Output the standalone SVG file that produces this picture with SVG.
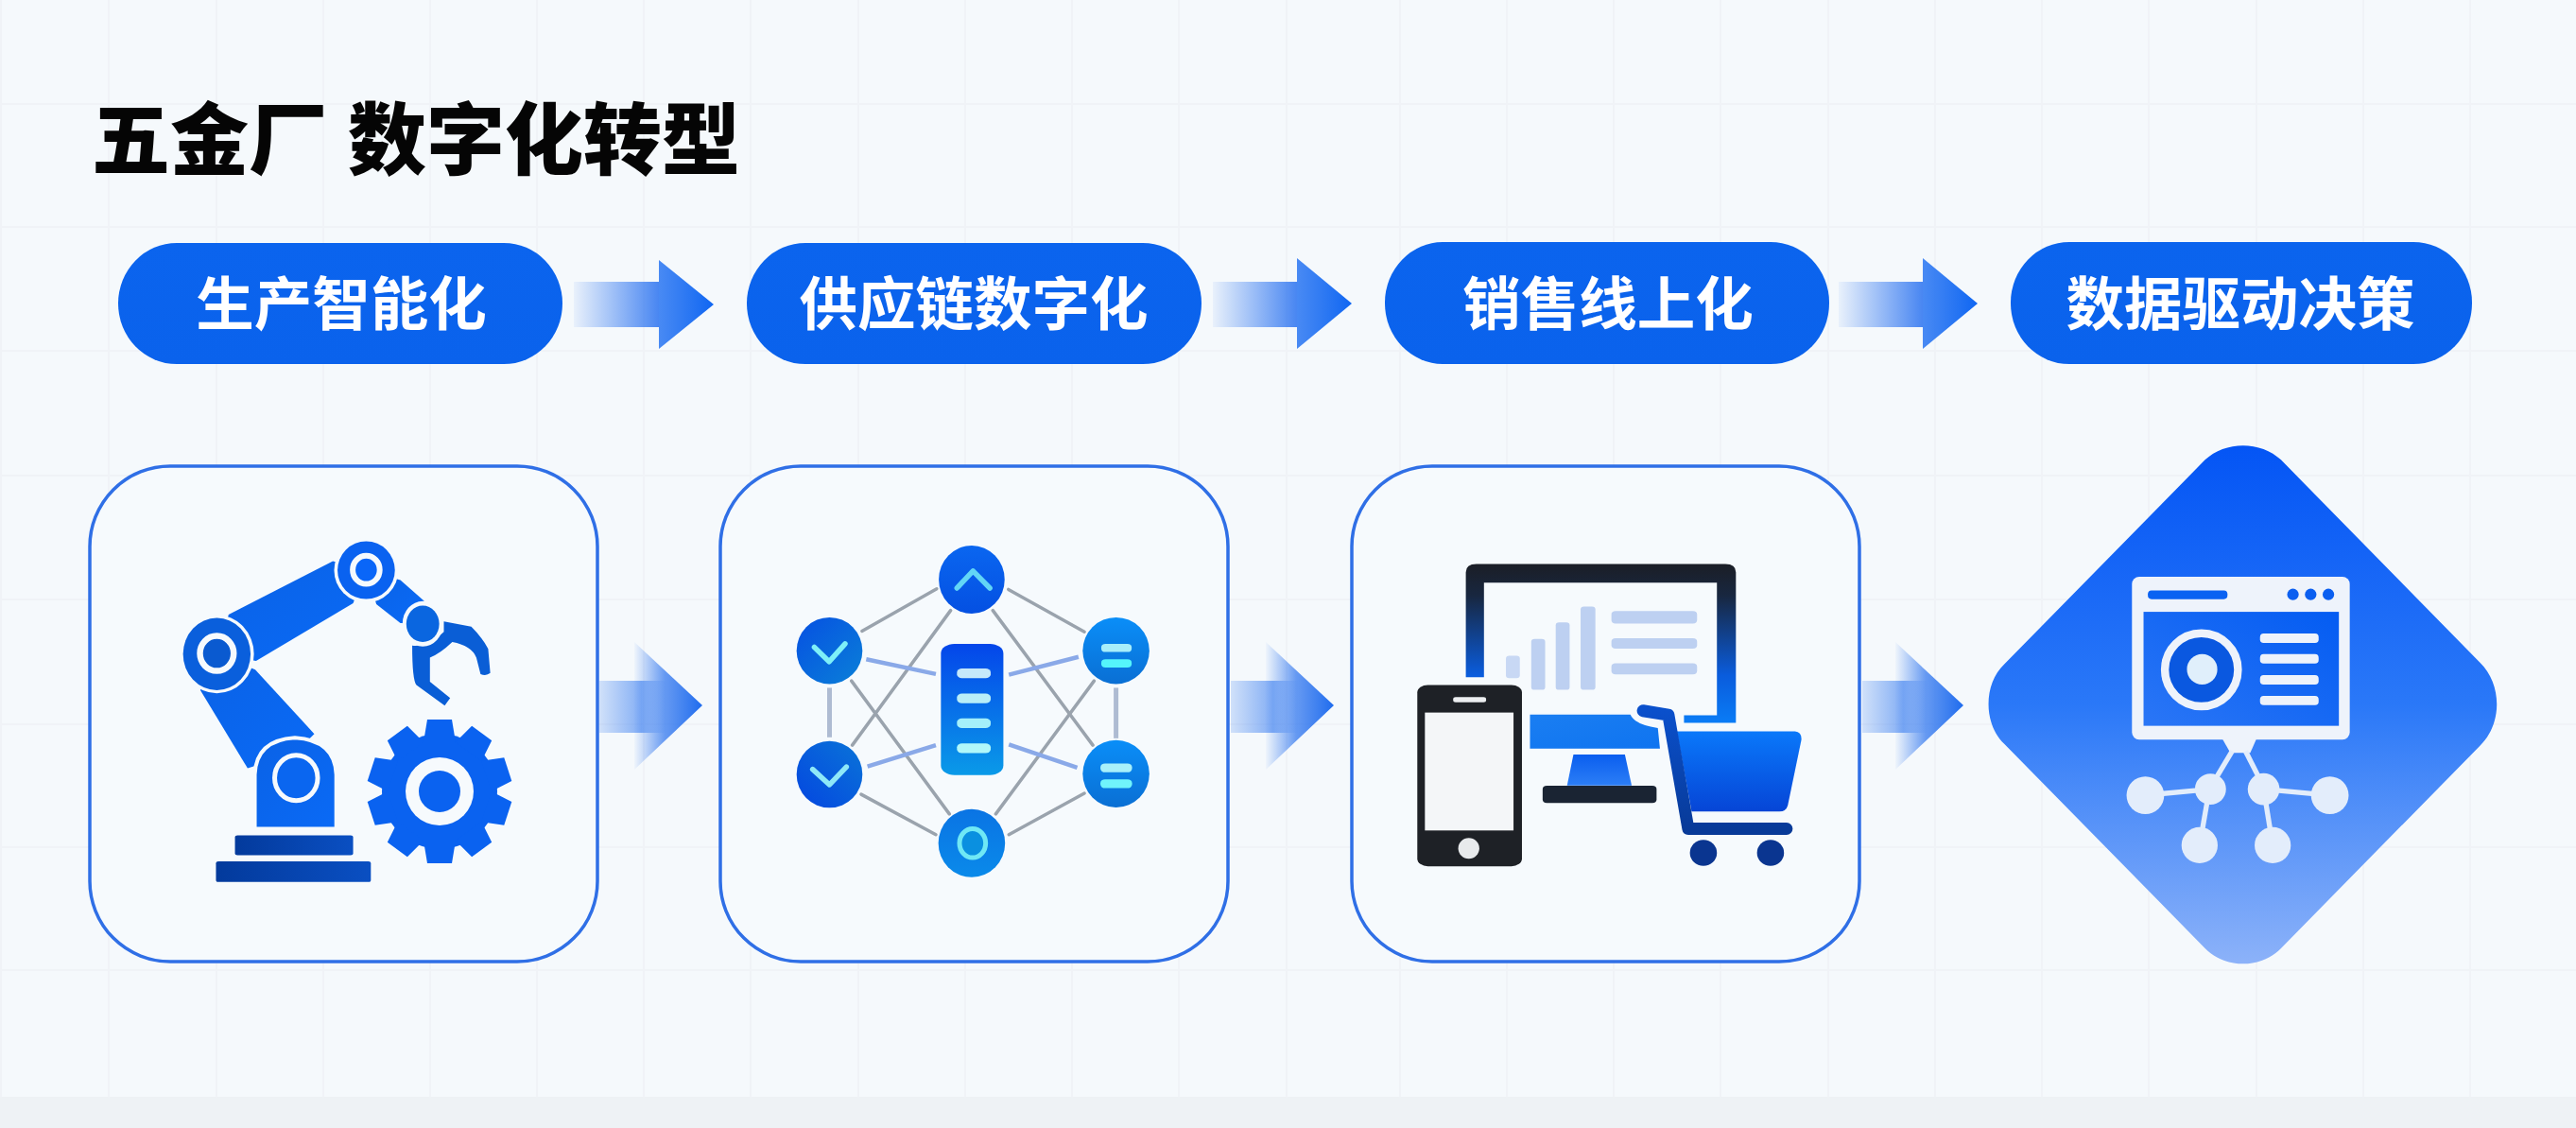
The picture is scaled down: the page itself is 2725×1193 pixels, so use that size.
<svg xmlns="http://www.w3.org/2000/svg" width="2725" height="1193" viewBox="0 0 2725 1193">
<style>
.title{font-family:"Noto Sans CJK SC","Noto Sans",sans-serif;font-weight:900;font-size:83px;fill:#050505}
.pill{fill:url(#pillG)}
.ptext{font-family:"Noto Sans CJK SC","Noto Sans",sans-serif;font-weight:700;font-size:61.5px;fill:#fff;text-anchor:middle}
.card{fill:#f6fafd;stroke:#2f6fe6;stroke-width:3.5}
.grid line{stroke:#f0f3f7;stroke-width:2}
.ns{vector-effect:non-scaling-stroke;fill:none}
.g1{stroke:#9aa3ad;stroke-width:3.5;stroke-linecap:round}
.g2{stroke:#aebbd2;stroke-width:5}
.b1{stroke:#8aa9e8;stroke-width:4.5}
.rb{fill:url(#robotG)}
.bgf{fill:#f6fafd}
.glyph{vector-effect:non-scaling-stroke;fill:none;stroke-width:5.5;stroke-linecap:round;stroke-linejoin:round}
.chart{fill:#bdd0f1}
.wh{fill:#eef3fb}
.nd{fill:#e3edfb}
.ln{stroke:#e3edfb;stroke-width:14;fill:none}
</style>
<defs>
<linearGradient id="pillG" x1="0" y1="0" x2="0" y2="1"><stop offset="0" stop-color="#0b64ee"/><stop offset="1" stop-color="#0a62ec"/></linearGradient>
<linearGradient id="shaftT" x1="0" y1="0" x2="1" y2="0"><stop offset="0" stop-color="#2a72f0" stop-opacity=".06"/><stop offset="1" stop-color="#2a72f0" stop-opacity=".85"/></linearGradient>
<linearGradient id="headT" x1="0" y1="0" x2="1" y2="0"><stop offset="0" stop-color="#2a76f2" stop-opacity=".85"/><stop offset="1" stop-color="#0f66f2"/></linearGradient>
<linearGradient id="shaftB" x1="0" y1="0" x2="1" y2="0"><stop offset="0" stop-color="#3e80f0" stop-opacity=".2"/><stop offset=".62" stop-color="#3e80f0" stop-opacity=".62"/><stop offset="1" stop-color="#3e80f0" stop-opacity="0"/></linearGradient>
<linearGradient id="headB" x1="0" y1="0" x2="1" y2="0"><stop offset="0" stop-color="#2d74ee" stop-opacity=".03"/><stop offset=".45" stop-color="#2d74ee" stop-opacity=".72"/><stop offset="1" stop-color="#1f6cee"/></linearGradient>
<linearGradient id="robotG" x1="0" y1="0" x2="1" y2="1"><stop offset="0" stop-color="#0a62e6"/><stop offset="1" stop-color="#0a6af6"/></linearGradient>
<linearGradient id="plinth" x1="0" y1="0" x2="1" y2="0"><stop offset="0" stop-color="#033a9c"/><stop offset="1" stop-color="#0a4fc2"/></linearGradient>
<linearGradient id="nTop" x1="0" y1="0" x2="0" y2="1"><stop offset="0" stop-color="#0a66f0"/><stop offset="1" stop-color="#0450e2"/></linearGradient>
<linearGradient id="nLU" x1="0" y1="0" x2="1" y2="1"><stop offset="0" stop-color="#0650e2"/><stop offset="1" stop-color="#0a80d8"/></linearGradient>
<linearGradient id="nLL" x1="1" y1="0" x2="0" y2="1"><stop offset="0" stop-color="#0a74d8"/><stop offset="1" stop-color="#0446e0"/></linearGradient>
<linearGradient id="nR" x1="0" y1="0" x2="0" y2="1"><stop offset="0" stop-color="#0a8ef8"/><stop offset="1" stop-color="#0a6fd4"/></linearGradient>
<linearGradient id="nB" x1="0" y1="0" x2="0" y2="1"><stop offset="0" stop-color="#0a74e4"/><stop offset="1" stop-color="#0a8aea"/></linearGradient>
<linearGradient id="nC" x1="0" y1="0" x2="0" y2="1"><stop offset="0" stop-color="#0446ea"/><stop offset="1" stop-color="#0a9ae8"/></linearGradient>
<linearGradient id="frame" x1="0" y1="0" x2="0" y2="1"><stop offset="0" stop-color="#1b1e26"/><stop offset=".2" stop-color="#182740"/><stop offset=".7" stop-color="#0a5cdc"/><stop offset="1" stop-color="#0a7cf6"/></linearGradient>
<linearGradient id="chin" x1="0" y1="0" x2="1" y2="1"><stop offset="0" stop-color="#1a7ef2"/><stop offset="1" stop-color="#0f74f0"/></linearGradient>
<linearGradient id="stand" x1="0" y1="0" x2="0" y2="1"><stop offset="0" stop-color="#0a5eef"/><stop offset="1" stop-color="#2c7ef6"/></linearGradient>
<linearGradient id="basket" x1="0" y1="0" x2="0" y2="1"><stop offset="0" stop-color="#0a78fa"/><stop offset="1" stop-color="#0645d6"/></linearGradient>
<linearGradient id="cartL" gradientUnits="userSpaceOnUse" x1="0" y1="770" x2="0" y2="1120"><stop offset="0" stop-color="#0a50cc"/><stop offset="1" stop-color="#083a98"/></linearGradient>
<linearGradient id="dia" x1="0" y1="0" x2="0" y2="1"><stop offset="0" stop-color="#0455f5"/><stop offset=".5" stop-color="#2a78f8"/><stop offset="1" stop-color="#8cb2f9"/></linearGradient>
<linearGradient id="dInner" x1="1" y1="0" x2="0" y2="1"><stop offset="0" stop-color="#045cf2"/><stop offset="1" stop-color="#2a76f6"/></linearGradient>
<polygon id="tooth" points="-13,-76 13,-76 17,-52 -17,-52"/>
</defs>

<g id="background">
<rect width="2725" height="1193" fill="#f5f9fc"/>
<rect y="1160" width="2725" height="33" fill="#eef2f5"/>
<g class="grid">
<line x1="1" y1="0" x2="1" y2="1160"/><line x1="115" y1="0" x2="115" y2="1160"/><line x1="229" y1="0" x2="229" y2="1160"/><line x1="342" y1="0" x2="342" y2="1160"/><line x1="455" y1="0" x2="455" y2="1160"/><line x1="568" y1="0" x2="568" y2="1160"/><line x1="681" y1="0" x2="681" y2="1160"/><line x1="794" y1="0" x2="794" y2="1160"/><line x1="908" y1="0" x2="908" y2="1160"/><line x1="1021" y1="0" x2="1021" y2="1160"/><line x1="1134" y1="0" x2="1134" y2="1160"/><line x1="1247" y1="0" x2="1247" y2="1160"/><line x1="1361" y1="0" x2="1361" y2="1160"/><line x1="1481" y1="0" x2="1481" y2="1160"/><line x1="1594" y1="0" x2="1594" y2="1160"/><line x1="1707" y1="0" x2="1707" y2="1160"/><line x1="1820" y1="0" x2="1820" y2="1160"/><line x1="1934" y1="0" x2="1934" y2="1160"/><line x1="2047" y1="0" x2="2047" y2="1160"/><line x1="2160" y1="0" x2="2160" y2="1160"/><line x1="2273" y1="0" x2="2273" y2="1160"/><line x1="2387" y1="0" x2="2387" y2="1160"/><line x1="2500" y1="0" x2="2500" y2="1160"/><line x1="2613" y1="0" x2="2613" y2="1160"/>
<line x1="0" y1="110" x2="2725" y2="110"/><line x1="0" y1="240" x2="2725" y2="240"/><line x1="0" y1="371" x2="2725" y2="371"/><line x1="0" y1="503" x2="2725" y2="503"/><line x1="0" y1="634" x2="2725" y2="634"/><line x1="0" y1="766" x2="2725" y2="766"/><line x1="0" y1="896" x2="2725" y2="896"/><line x1="0" y1="1026" x2="2725" y2="1026"/>
</g>
</g>

<text id="title" class="title" y="178"><tspan x="97">五金厂</tspan><tspan x="368">数字化转型</tspan></text>

<g id="connectors">
<g id="arrow-top-1"><rect x="607" y="298" width="90" height="48" fill="url(#shaftT)"/><polygon points="697,275 755,322 697,369" fill="url(#headT)"/></g>
<g id="arrow-top-2"><rect x="1283" y="298" width="89" height="48" fill="url(#shaftT)"/><polygon points="1372,273 1430,321 1372,369" fill="url(#headT)"/></g>
<g id="arrow-top-3"><rect x="1945" y="298" width="89" height="48" fill="url(#shaftT)"/><polygon points="2034,273 2092,321 2034,369" fill="url(#headT)"/></g>
<g id="arrow-bot-1"><polygon points="671,679 743,746 671,814" fill="url(#headB)"/><rect x="634" y="720" width="72" height="55" fill="url(#shaftB)"/></g>
<g id="arrow-bot-2"><polygon points="1339,679 1411,746 1339,814" fill="url(#headB)"/><rect x="1302" y="720" width="72" height="55" fill="url(#shaftB)"/></g>
<g id="arrow-bot-3"><polygon points="2005,679 2077,746 2005,814" fill="url(#headB)"/><rect x="1970" y="720" width="70" height="55" fill="url(#shaftB)"/></g>
</g>

<g id="step-1"><rect class="pill" x="125" y="257" width="470" height="128" rx="62" ry="64"/><text class="ptext" x="361" y="344">生产智能化</text></g>
<g id="step-2"><rect class="pill" x="790" y="257" width="481" height="128" rx="62" ry="64"/><text class="ptext" x="1030" y="344">供应链数字化</text></g>
<g id="step-3"><rect class="pill" x="1465" y="256" width="470" height="129" rx="62" ry="64"/><text class="ptext" x="1701" y="344">销售线上化</text></g>
<g id="step-4"><rect class="pill" x="2127" y="256" width="488" height="129" rx="62" ry="64"/><text class="ptext" x="2370" y="344">数据驱动决策</text></g>

<g id="card-robot">
<rect class="card" x="95" y="493" width="537" height="524" rx="85"/>
<g transform="translate(70,470) scale(.4464,.3636)">
<polygon class="rb" points="385,495 632,340 711,366 680,462 450,630 357,610"/>
<polygon class="rb" points="318,715 357,610 448,655 588,842 540,900 430,942"/>
<polygon class="rb" points="792,395 848,455 845,522 792,520 735,465 711,366"/>
<ellipse class="bgf" cx="357" cy="610" rx="88" ry="114"/>
<ellipse cx="357" cy="610" rx="80" ry="105" fill="#0a5fdc"/>
<ellipse cx="357" cy="608" rx="40" ry="51" fill="#0a5ad0" stroke="#f6fafd" stroke-width="6.5" vector-effect="non-scaling-stroke"/>
<ellipse class="bgf" cx="711" cy="366" rx="76" ry="94"/>
<ellipse cx="711" cy="366" rx="68" ry="84" fill="#0a62f0"/>
<ellipse cx="711" cy="365" rx="32" ry="41" fill="#0a66f8" stroke="#f6fafd" stroke-width="6" vector-effect="non-scaling-stroke"/>
<path fill="#0a5ed6" d="M895,515 L960,530 Q985,560 1000,595 L1005,665 Q995,675 982,668 L972,620 Q960,585 915,575 Q885,610 862,620 L862,690 L910,738 L897,760 L830,700 Q820,685 820,585 Q860,590 895,545 Z"/>
<ellipse class="bgf" cx="845" cy="522" rx="48" ry="66"/>
<ellipse cx="845" cy="522" rx="39" ry="53" fill="#0a66e0"/>
<path d="M447,1118 L447,960 Q450,860 542,853 Q637,860 640,960 L640,1118 Z" class="rb" stroke="#f6fafd" stroke-width="4" vector-effect="non-scaling-stroke"/>
<ellipse cx="545" cy="970" rx="51" ry="66" fill="#0a66f0" stroke="#f6fafd" stroke-width="5" vector-effect="non-scaling-stroke"/>
<rect x="400" y="1137" width="280" height="58" rx="6" fill="url(#plinth)"/>
<rect x="355" y="1213" width="367" height="60" rx="6" fill="url(#plinth)"/>
</g>
<g transform="translate(465,837)" fill="#0a62f0">
<circle r="61"/>
<use href="#tooth"/><use href="#tooth" transform="rotate(36)"/><use href="#tooth" transform="rotate(72)"/><use href="#tooth" transform="rotate(108)"/><use href="#tooth" transform="rotate(144)"/><use href="#tooth" transform="rotate(180)"/><use href="#tooth" transform="rotate(216)"/><use href="#tooth" transform="rotate(252)"/><use href="#tooth" transform="rotate(288)"/><use href="#tooth" transform="rotate(324)"/>
<circle r="36" fill="#f6fafd"/><circle r="22"/>
</g>
</g>

<g id="card-network">
<rect class="card" x="762" y="493" width="537" height="524" rx="85"/>
<g transform="translate(740,470) scale(.4464,.3636)">
<g>
<line class="ns g1" x1="385" y1="543" x2="562" y2="420"/><line class="ns g1" x1="732" y1="422" x2="912" y2="545"/>
<line class="ns g1" x1="383" y1="1018" x2="560" y2="1135"/><line class="ns g1" x1="733" y1="1135" x2="912" y2="1015"/>
<line class="ns g1" x1="595" y1="483" x2="362" y2="875"/><line class="ns g1" x1="695" y1="483" x2="932" y2="875"/>
<line class="ns g1" x1="360" y1="688" x2="592" y2="1075"/><line class="ns g1" x1="935" y1="688" x2="702" y2="1075"/>
<line class="ns g2" x1="308" y1="708" x2="308" y2="852"/><line class="ns g2" x1="987" y1="708" x2="987" y2="855"/>
<line class="ns b1" x1="395" y1="625" x2="560" y2="668"/><line class="ns b1" x1="898" y1="618" x2="733" y2="670"/>
<line class="ns b1" x1="398" y1="937" x2="560" y2="875"/><line class="ns b1" x1="895" y1="940" x2="733" y2="873"/>
</g>
<rect x="572" y="580" width="148" height="382" rx="32" ry="28" fill="url(#nC)"/>
<rect x="610" y="652" width="80" height="28" rx="12" ry="11" fill="#c5e8fa"/><rect x="610" y="725" width="80" height="28" rx="12" ry="11" fill="#b8eef8"/><rect x="610" y="797" width="80" height="28" rx="12" ry="11" fill="#a4f0fa"/><rect x="610" y="870" width="80" height="28" rx="12" ry="11" fill="#b0f8fa"/>
<ellipse cx="645" cy="393" rx="78" ry="99" fill="url(#nTop)"/>
<polyline class="glyph" stroke="#62d6f6" points="610,418 648,368 688,418"/>
<ellipse cx="308" cy="600" rx="78" ry="97" fill="url(#nLU)"/>
<polyline class="glyph" stroke="#7ef0f8" points="272,590 307,632 345,580"/>
<ellipse cx="308" cy="960" rx="78" ry="97" fill="url(#nLL)"/>
<polyline class="glyph" stroke="#8ee8f8" points="268,945 308,990 348,938"/>
<ellipse cx="987" cy="600" rx="79" ry="97" fill="url(#nR)"/>
<rect x="952" y="580" width="72" height="24" rx="10" fill="#a8eefa"/><rect x="952" y="625" width="72" height="24" rx="10" fill="#55f5fb"/>
<ellipse cx="987" cy="958" rx="79" ry="98" fill="url(#nR)"/>
<rect x="950" y="928" width="75" height="26" rx="11" fill="#a8f0fa"/><rect x="950" y="974" width="75" height="26" rx="11" fill="#70f4fb"/>
<ellipse cx="645" cy="1160" rx="79" ry="99" fill="url(#nB)"/>
<ellipse cx="647" cy="1160" rx="31" ry="42" fill="#0a90e0" stroke="#6fe8f5" stroke-width="5" vector-effect="non-scaling-stroke"/>
</g>
</g>

<g id="card-commerce">
<rect class="card" x="1430" y="493" width="537" height="524" rx="85"/>
<g transform="translate(1410,470) scale(.4464,.3636)">
<path fill="url(#frame)" d="M315,677 L315,372 Q315,348 340,348 L930,348 Q955,348 955,372 L955,810 L832,810 L832,788 L910,788 L910,402 L358,402 L358,677 Z"/>
<rect class="chart" x="410" y="615" width="33" height="65" rx="8" opacity=".8"/><rect class="chart" x="470" y="566" width="33" height="148" rx="8"/><rect class="chart" x="528" y="518" width="33" height="196" rx="8"/><rect class="chart" x="587" y="472" width="35" height="242" rx="8"/>
<rect class="chart" x="660" y="485" width="203" height="36" rx="10"/><rect class="chart" x="660" y="564" width="203" height="30" rx="10"/><rect class="chart" x="660" y="637" width="203" height="32" rx="10"/>
<path fill="url(#chin)" d="M467,786 L705,786 Q715,815 770,825 L775,885 L467,885 Z"/>
<polygon fill="url(#stand)" points="570,902 692,902 708,992 555,992"/>
<rect x="497" y="993" width="270" height="50" rx="10" fill="#1a2433"/>
<rect x="200" y="700" width="248" height="527" rx="25" ry="22" fill="#1e2126"/>
<rect x="218" y="780" width="210" height="343" fill="#f4f6f8"/>
<rect x="285" y="735" width="78" height="15" rx="6" fill="#eceef0"/>
<ellipse cx="322" cy="1175" rx="25" ry="30" fill="#e8eaec"/>
<path class="ns" stroke="#f6fafd" stroke-width="21" stroke-linecap="round" d="M735,775 L795,787 L815,930"/>
<path fill="url(#basket)" d="M815,835 L1095,835 Q1112,838 1110,860 L1078,1050 Q1074,1068 1058,1068 L850,1068 Z"/>
<path class="ns" stroke="url(#cartL)" stroke-width="13" stroke-linecap="round" stroke-linejoin="round" d="M735,775 L795,787 L842,1118 L1075,1118"/>
<ellipse cx="878" cy="1188" rx="32" ry="38" fill="#0a3590"/>
<ellipse cx="1037" cy="1188" rx="32" ry="38" fill="#0a3590"/>
</g>
</g>

<g id="card-data">
<g transform="translate(2080,450) scale(.3827)">
<path fill="url(#dia)" d="M660,95 C715,42 815,42 870,95 L1420,655 C1482,715 1482,825 1420,885 L870,1445 C815,1502 715,1502 660,1445 L105,880 C47,825 47,715 105,660 Z"/>
<rect class="wh" x="458" y="418" width="602" height="450" rx="20"/>
<rect x="490" y="515" width="540" height="315" fill="url(#dInner)"/>
<rect x="502" y="456" width="220" height="24" rx="10" fill="#0a62f2"/>
<circle cx="903" cy="467" r="16" fill="#0b5ff0"/><circle cx="952" cy="467" r="16" fill="#0b5ff0"/><circle cx="1001" cy="467" r="16" fill="#0b5ff0"/>
<circle cx="650" cy="675" r="101" fill="#0a58e0" stroke="#eef3fb" stroke-width="22"/>
<circle cx="652" cy="674" r="42" fill="#e0effb"/>
<rect class="wh" x="812" y="575" width="162" height="26" rx="10"/><rect class="wh" x="812" y="632" width="162" height="26" rx="10"/><rect class="wh" x="812" y="690" width="162" height="26" rx="10"/><rect class="wh" x="812" y="747" width="162" height="26" rx="10"/>
<polygon class="wh" points="708,866 802,866 785,905 730,905"/>
<line class="ln" x1="735" y1="900" x2="690" y2="975"/><line class="ln" x1="772" y1="900" x2="810" y2="975"/>
<line class="ln" x1="495" y1="1022" x2="675" y2="1005"/><line class="ln" x1="822" y1="1005" x2="1005" y2="1022"/>
<line class="ln" x1="672" y1="1005" x2="645" y2="1160"/><line class="ln" x1="822" y1="1005" x2="847" y2="1160"/>
<circle class="nd" cx="675" cy="1005" r="43"/><circle class="nd" cx="822" cy="1005" r="44"/><circle class="nd" cx="495" cy="1022" r="52"/><circle class="nd" cx="1005" cy="1022" r="52"/><circle class="nd" cx="645" cy="1160" r="50"/><circle class="nd" cx="847" cy="1160" r="50"/>
</g>
</g>
</svg>
